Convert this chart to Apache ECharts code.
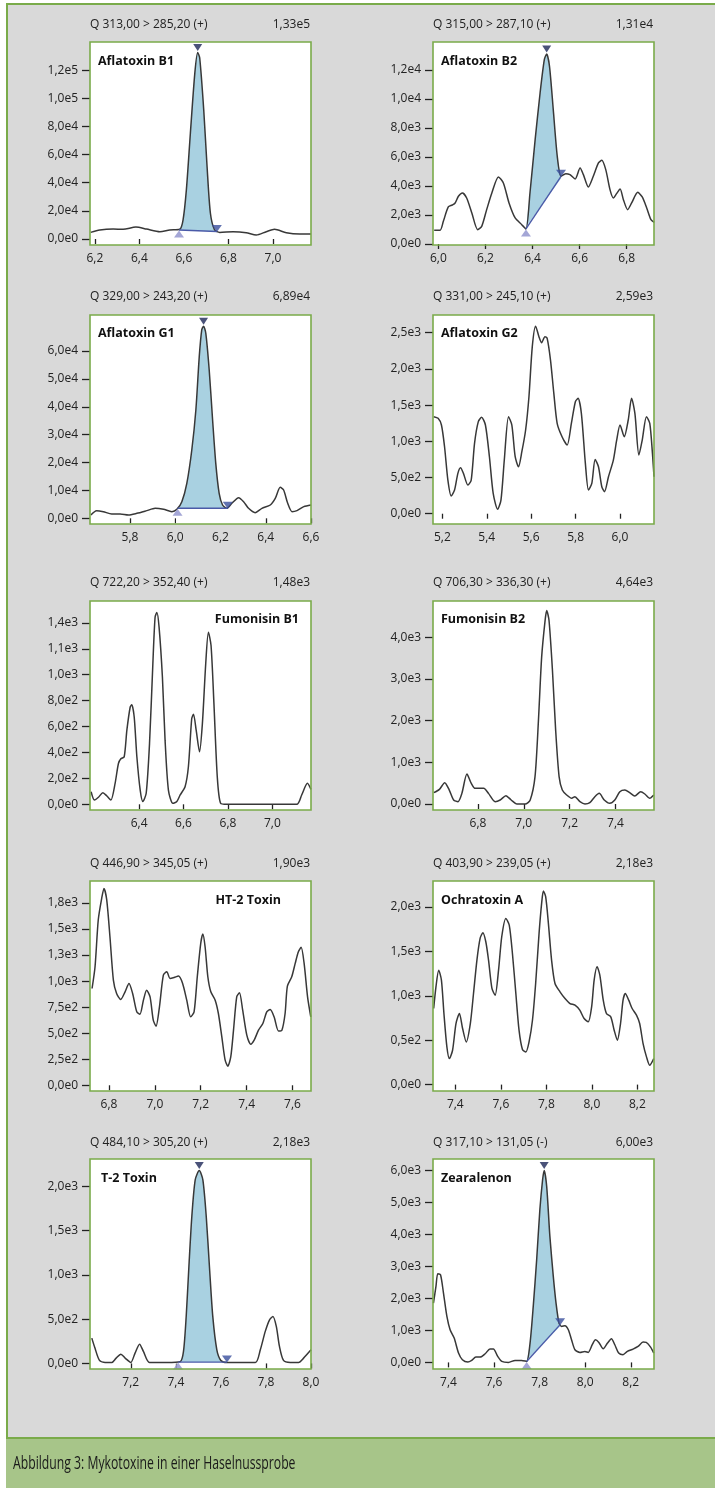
<!DOCTYPE html>
<html><head><meta charset="utf-8">
<script src="https://cdn.jsdelivr.net/npm/echarts@6/dist/echarts.min.js"></script>
<style>
html,body{margin:0;padding:0;background:#fff;}
#frame{position:absolute;left:6px;top:3px;width:709px;height:1485px;background:#d9d9d9;border-left:2px solid #7aab4a;border-top:2px solid #7aab4a;box-sizing:border-box;}
#capbar{position:absolute;left:6px;top:1437px;width:709px;height:51px;background:#a7c589;border-top:2px solid #7aab4a;box-sizing:border-box;}
#c{position:absolute;left:0;top:0;width:715px;height:1488px;}
</style>
</head><body>
<div id="frame"></div><div id="capbar"></div><div id="c"></div>
<script>
// ---------------- DATA ----------------
const compounds = ['Aflatoxin B1','Aflatoxin B2','Aflatoxin G1','Aflatoxin G2','Fumonisin B1','Fumonisin B2','HT-2 Toxin','Ochratoxin A','T-2 Toxin','Zearalenon'];
const transitions = ['Q 313,00 > 285,20 (+)','Q 315,00 > 287,10 (+)','Q 329,00 > 243,20 (+)','Q 331,00 > 245,10 (+)','Q 722,20 > 352,40 (+)','Q 706,30 > 336,30 (+)','Q 446,90 > 345,05 (+)','Q 403,90 > 239,05 (+)','Q 484,10 > 305,20 (+)','Q 317,10 > 131,05 (-)'];
const maxIntensity = ['1,33e5','1,31e4','6,89e4','2,59e3','1,48e3','4,64e3','1,90e3','2,18e3','2,18e3','6,00e3'];
const caption = 'Abbildung 3: Mykotoxine in einer Haselnussprobe';

const aflatoxinB1 = [[6.181,4700],[6.222,6400],[6.282,7100],[6.327,6900],[6.384,8500],[6.432,7100],[6.492,5200],[6.536,6400],[6.581,6900],[6.596,13500],[6.611,34900],[6.629,75200],[6.649,117900],[6.662,132500],[6.671,128600],[6.689,91800],[6.704,51500],[6.719,18300],[6.738,6400],[6.761,4700],[6.821,5200],[6.880,4500],[6.925,2800],[6.970,5200],[7.007,6900],[7.060,4500],[7.120,3600],[7.171,3600]];
const aflatoxinB2 = [[5.982,943],[6.007,943],[6.021,1563],[6.042,2552],[6.059,2690],[6.071,2828],[6.085,3288],[6.102,3517],[6.120,3172],[6.142,2138],[6.167,988],[6.184,1218],[6.205,2368],[6.227,3517],[6.255,4621],[6.276,4207],[6.300,2828],[6.326,1793],[6.354,1333],[6.372,1035],[6.389,3517],[6.411,7196],[6.432,10414],[6.450,12714],[6.460,13100],[6.472,12254],[6.488,9265],[6.505,6046],[6.521,4667],[6.541,4851],[6.559,4782],[6.581,4483],[6.602,5242],[6.616,4782],[6.637,3931],[6.658,4667],[6.680,5587],[6.694,5770],[6.711,5127],[6.729,3747],[6.743,3172],[6.757,3471],[6.772,3793],[6.786,3058],[6.804,2368],[6.821,2828],[6.847,3563],[6.866,3242],[6.885,2483],[6.903,1678],[6.917,1494]];
const aflatoxinG1 = [[5.627,1195],[5.652,2749],[5.682,2390],[5.719,1554],[5.756,1554],[5.793,1195],[5.830,1793],[5.874,2749],[5.911,3586],[5.948,3227],[5.985,2390],[6.007,3227],[6.029,5976],[6.051,12550],[6.073,24500],[6.091,38844],[6.106,57967],[6.117,67529],[6.125,68900],[6.135,66333],[6.150,53186],[6.165,35258],[6.179,19721],[6.194,8964],[6.209,4781],[6.228,3586],[6.250,5378],[6.280,7410],[6.302,5976],[6.324,3586],[6.353,2032],[6.383,3586],[6.420,4781],[6.442,7171],[6.464,11115],[6.479,10159],[6.497,5378],[6.516,2390],[6.538,2749],[6.568,4183],[6.600,4781]];
const aflatoxinG2 = [[5.161,1340],[5.181,1317],[5.196,1225],[5.210,925],[5.225,465],[5.240,244],[5.255,327],[5.270,557],[5.282,635],[5.295,557],[5.315,396],[5.330,465],[5.345,971],[5.362,1271],[5.377,1331],[5.394,1225],[5.412,787],[5.429,281],[5.449,60],[5.464,189],[5.479,741],[5.498,1340],[5.513,1225],[5.528,787],[5.543,649],[5.558,856],[5.575,1156],[5.590,1616],[5.605,2307],[5.620,2590],[5.635,2445],[5.647,2362],[5.662,2445],[5.672,2422],[5.687,2122],[5.702,1662],[5.717,1248],[5.739,1063],[5.762,948],[5.781,1248],[5.799,1547],[5.811,1593],[5.826,1386],[5.844,695],[5.858,327],[5.873,419],[5.888,750],[5.903,649],[5.918,373],[5.930,304],[5.948,511],[5.970,741],[5.985,1017],[6.000,1225],[6.019,1063],[6.037,1294],[6.052,1593],[6.067,1386],[6.085,810],[6.100,1017],[6.119,1340],[6.134,1248],[6.146,833],[6.153,511]];
const fumonisinB1 = [[6.184,97],[6.199,33],[6.217,54],[6.237,90],[6.255,64],[6.273,33],[6.292,162],[6.307,315],[6.318,351],[6.333,367],[6.345,572],[6.360,751],[6.367,769],[6.378,674],[6.390,367],[6.405,110],[6.417,21],[6.432,85],[6.447,469],[6.462,1085],[6.472,1444],[6.480,1480],[6.490,1367],[6.505,982],[6.517,495],[6.532,110],[6.552,8],[6.570,21],[6.585,72],[6.607,136],[6.622,290],[6.637,662],[6.645,695],[6.657,572],[6.672,405],[6.685,623],[6.700,1085],[6.712,1328],[6.724,1226],[6.737,777],[6.752,213],[6.767,8],[6.795,0],[7.110,0],[7.132,72],[7.158,162],[7.174,115]];
const fumonisinB2 = [[6.607,271],[6.632,351],[6.655,511],[6.675,335],[6.694,96],[6.713,56],[6.730,255],[6.752,719],[6.771,495],[6.788,375],[6.825,375],[6.846,255],[6.875,56],[6.897,96],[6.922,200],[6.945,96],[6.970,0],[7.006,0],[7.028,96],[7.049,655],[7.064,2012],[7.078,3529],[7.093,4407],[7.100,4640],[7.110,4407],[7.125,3210],[7.139,1772],[7.154,655],[7.168,335],[7.187,216],[7.209,136],[7.223,176],[7.245,56],[7.267,0],[7.288,32],[7.310,176],[7.329,255],[7.351,96],[7.375,16],[7.397,96],[7.419,295],[7.441,335],[7.462,271],[7.484,192],[7.510,295],[7.528,240],[7.549,136],[7.567,216]];
const ht2Toxin = [[6.726,929],[6.739,1138],[6.753,1587],[6.768,1795],[6.778,1890],[6.790,1779],[6.804,1426],[6.819,1010],[6.833,881],[6.851,824],[6.870,897],[6.887,977],[6.903,881],[6.921,705],[6.935,683],[6.950,817],[6.964,913],[6.979,849],[6.993,625],[7.005,567],[7.020,753],[7.037,1058],[7.052,1090],[7.066,1026],[7.084,1035],[7.103,1048],[7.121,977],[7.139,817],[7.156,657],[7.171,705],[7.185,1042],[7.200,1362],[7.209,1452],[7.219,1330],[7.231,1042],[7.244,897],[7.263,817],[7.277,689],[7.292,465],[7.306,247],[7.318,183],[7.331,272],[7.343,529],[7.357,849],[7.369,888],[7.383,721],[7.401,481],[7.418,394],[7.433,433],[7.452,529],[7.471,593],[7.488,705],[7.503,728],[7.520,657],[7.539,522],[7.554,529],[7.568,689],[7.578,952],[7.597,1042],[7.612,1170],[7.626,1282],[7.638,1324],[7.651,1170],[7.666,849],[7.680,657]];
const ochratoxinA = [[7.305,857],[7.315,1101],[7.327,1289],[7.339,1177],[7.350,801],[7.363,425],[7.374,293],[7.388,387],[7.403,688],[7.418,801],[7.432,632],[7.448,481],[7.466,688],[7.480,1026],[7.495,1402],[7.509,1646],[7.521,1710],[7.534,1609],[7.546,1402],[7.561,1083],[7.575,1007],[7.590,1289],[7.604,1665],[7.622,1872],[7.637,1797],[7.651,1477],[7.666,1026],[7.680,613],[7.695,395],[7.710,368],[7.724,481],[7.739,725],[7.753,1139],[7.768,1703],[7.780,2060],[7.787,2180],[7.797,2116],[7.809,1816],[7.823,1402],[7.838,1139],[7.860,1045],[7.882,970],[7.904,913],[7.926,895],[7.947,838],[7.966,744],[7.984,707],[7.999,876],[8.010,1177],[8.023,1327],[8.035,1233],[8.050,951],[8.064,801],[8.083,763],[8.098,613],[8.112,500],[8.126,688],[8.137,951],[8.147,1026],[8.162,951],[8.177,857],[8.196,782],[8.210,688],[8.225,462],[8.240,312],[8.254,218],[8.272,293]];
const t2Toxin = [[7.027,286],[7.041,173],[7.061,34],[7.086,11],[7.116,11],[7.135,60],[7.156,105],[7.175,60],[7.200,11],[7.219,117],[7.239,218],[7.256,136],[7.283,11],[7.360,11],[7.419,19],[7.434,136],[7.446,531],[7.458,1096],[7.471,1661],[7.486,2075],[7.504,2180],[7.520,2075],[7.535,1661],[7.550,1058],[7.564,531],[7.582,154],[7.600,34],[7.627,11],[7.753,11],[7.775,154],[7.797,362],[7.816,493],[7.831,531],[7.846,418],[7.860,192],[7.878,34],[7.908,11],[7.945,11],[7.967,60],[8.000,154]];
const zearalenon = [[7.334,1854],[7.345,2375],[7.353,2771],[7.365,2740],[7.378,2167],[7.393,1438],[7.407,1021],[7.425,760],[7.444,292],[7.461,83],[7.485,10],[7.502,63],[7.520,167],[7.539,167],[7.561,271],[7.582,417],[7.597,417],[7.616,188],[7.634,31],[7.663,0],[7.692,63],[7.721,63],[7.743,31],[7.758,604],[7.772,1750],[7.787,3208],[7.801,4771],[7.813,5708],[7.820,6000],[7.831,5500],[7.845,3938],[7.860,2688],[7.872,1854],[7.885,1229],[7.897,1125],[7.911,1146],[7.926,1021],[7.940,708],[7.955,396],[7.977,313],[7.999,344],[8.013,313],[8.031,552],[8.045,708],[8.060,625],[8.079,427],[8.098,604],[8.115,740],[8.130,552],[8.147,292],[8.166,240],[8.185,344],[8.210,417],[8.232,500],[8.254,635],[8.268,625],[8.287,479],[8.301,292]];
const signals = [aflatoxinB1, aflatoxinB2, aflatoxinG1, aflatoxinG2, fumonisinB1, fumonisinB2, ht2Toxin, ochratoxinA, t2Toxin, zearalenon];

// integrated peaks: baseline start, baseline end, apex
const peakStart = [[6.578,6400],[6.372,1035],[6.010,3600],null,null,null,null,null,[7.410,15],[7.743,31]];
const peakEnd   = [[6.748,5300],[6.521,4667],[6.232,3600],null,null,null,null,null,[7.627,15],[7.890,1180]];
const peakApex  = [[6.662,132500],[6.460,13100],[6.125,68900],null,null,null,null,null,[7.504,2180],[7.820,6000]];

// axis ranges & ticks
const xMin = [6.178,5.977,5.623,5.158,6.179,6.604,6.717,7.302,7.019,7.332];
const xMax = [7.171,6.916,6.600,6.153,7.174,7.568,7.681,8.273,8.000,8.302];
const yMin = [-4260,-70,-2040,-142,-44,-144,-55,-72,-63,-206];
const yMax = [140000,13930,72900,2744,1569,4870,1961,2293,2310,6356];
const xTicks = [[6.2,6.4,6.6,6.8,7.0],[6.0,6.2,6.4,6.6,6.8],[5.8,6.0,6.2,6.4,6.6],[5.2,5.4,5.6,5.8,6.0],[6.4,6.6,6.8,7.0],[6.8,7.0,7.2,7.4],[6.8,7.0,7.2,7.4,7.6],[7.4,7.6,7.8,8.0,8.2],[7.2,7.4,7.6,7.8,8.0],[7.4,7.6,7.8,8.0,8.2]];
const yTicks = [[0,20000,40000,60000,80000,100000,120000],[0,2000,4000,6000,8000,10000,12000],[0,10000,20000,30000,40000,50000,60000],[0,500,1000,1500,2000,2500],[0,200,400,600,800,1000,1200,1400],[0,1000,2000,3000,4000],[0,250,500,750,1000,1250,1500,1750],[0,500,1000,1500,2000],[0,500,1000,1500,2000],[0,1000,2000,3000,4000,5000,6000]];
const yTickLabels = [['0,0e0','2,0e4','4,0e4','6,0e4','8,0e4','1,0e5','1,2e5'],['0,0e0','2,0e3','4,0e3','6,0e3','8,0e3','1,0e4','1,2e4'],['0,0e0','1,0e4','2,0e4','3,0e4','4,0e4','5,0e4','6,0e4'],['0,0e0','5,0e2','1,0e3','1,5e3','2,0e3','2,5e3'],['0,0e0','2,0e2','4,0e2','6,0e2','8,0e2','1,0e3','1,1e3','1,4e3'],['0,0e0','1,0e3','2,0e3','3,0e3','4,0e3'],['0,0e0','2,5e2','5,0e2','7,5e2','1,0e3','1,3e3','1,5e3','1,8e3'],['0,0e0','0,5e2','1,0e3','1,5e3','2,0e3'],['0,0e0','5,0e2','1,0e3','1,5e3','2,0e3'],['0,0e0','1,0e3','2,0e3','3,0e3','4,0e3','5,0e3','6,0e3']];

// ---------------- LAYOUT ----------------
const colLeft = [90, 433];
const boxWidth = 221;
const rowTop = [42, 315, 601, 881, 1159];
const rowHeight = [203, 209, 209, 210, 210];
const titleY = [25, 297, 583, 864, 1143];
// name label: [x, y, align]
const nameLabelPos = [[98,61,'left'],[441,61,'left'],[98,333,'left'],[441,333,'left'],[299,619,'right'],[441,619,'left'],[281,900,'right'],[441,900,'left'],[101,1178,'left'],[441,1178,'left']];

const FONT = '"Open Sans", "Noto Sans", sans-serif';
const CURVE = '#383838', FILL = '#a9d1e1', BASE = '#4a5aa8', GREEN = '#7aab4a';

const chart = echarts.init(document.getElementById('c'), null, {renderer:'canvas', width:715, height:1488});
const grids = [], xAxes = [], yAxes = [], series = [], graphics = [];

for (let i = 0; i < 10; i++) {
  const col = i % 2, row = Math.floor(i / 2);
  const left = colLeft[col], top = rowTop[row], h = rowHeight[row];
  grids.push({left: left, top: top, width: boxWidth, height: h, show: true, backgroundColor: '#fff', borderWidth: 0, containLabel: false});
  xAxes.push({
    type: 'value', gridIndex: i, min: xMin[i], max: xMax[i],
    axisLine: {show: false}, splitLine: {show: false},
    axisTick: {show: true, length: 5, customValues: xTicks[i], lineStyle: {color: '#222', width: 1.3}},
    axisLabel: {customValues: xTicks[i], margin: 8, fontSize: 12, color: '#222', fontFamily: FONT,
      formatter: v => v.toFixed(1).replace('.', ',')}
  });
  const yt = yTicks[i], yl = yTickLabels[i];
  yAxes.push({
    type: 'value', gridIndex: i, min: yMin[i], max: yMax[i],
    axisLine: {show: false}, splitLine: {show: false},
    axisTick: {show: true, length: 8, customValues: yt, lineStyle: {color: '#222', width: 1.3}},
    axisLabel: {customValues: yt, margin: 12, fontSize: 12, color: '#222', fontFamily: FONT,
      formatter: v => { const k = yt.findIndex(t => Math.abs(t - v) < 1e-6); return k >= 0 ? yl[k] : ''; }}
  });
  const data = signals[i];
  if (peakStart[i]) {
    const s = peakStart[i], e = peakEnd[i];
    const seg = [s].concat(data.filter(p => p[0] > s[0] && p[0] < e[0])).concat([e]);
    series.push({type: 'line', xAxisIndex: i, yAxisIndex: i, data: seg, smooth: 0.25, symbol: 'none', silent: true, z: 1,
      lineStyle: {width: 0, color: FILL}, areaStyle: {color: FILL, opacity: 1, origin: 'start'}});
    const ymin = yMin[i];
    series.push({type: 'custom', xAxisIndex: i, yAxisIndex: i, silent: true, z: 2,
      data: [[s[0], s[1], e[0], e[1]]],
      encode: {x: [0, 2], y: [1, 3]},
      renderItem: (params, api) => {
        const a = api.coord([api.value(0), api.value(1)]);
        const b = api.coord([api.value(2), api.value(3)]);
        const yb = api.coord([api.value(0), ymin])[1];
        return {type: 'polygon', shape: {points: [[a[0]-1.5, a[1]], [b[0]+1.5, b[1]], [b[0]+1.5, yb], [a[0]-1.5, yb]]}, style: {fill: '#fff'}};
      }});
  }
  series.push({type: 'line', xAxisIndex: i, yAxisIndex: i, data: data, smooth: 0.25, symbol: 'none', silent: true, z: 3,
    lineStyle: {color: CURVE, width: 1.5}});
  if (peakStart[i]) {
    series.push({type: 'line', xAxisIndex: i, yAxisIndex: i, data: [peakStart[i], peakEnd[i]], symbol: 'none', silent: true, z: 4,
      lineStyle: {color: BASE, width: 1.4}});
    series.push({type: 'scatter', xAxisIndex: i, yAxisIndex: i, silent: true, z: 5, clip: false,
      symbol: 'triangle',
      data: [
        {value: peakApex[i], symbolSize: [9, 7], symbolRotate: 180, symbolOffset: [0, -5], itemStyle: {color: '#1d2757'}},
        {value: peakStart[i], symbolSize: [10, 7], symbolRotate: 0, symbolOffset: [0, 4], itemStyle: {color: '#8d90cc'}},
        {value: peakEnd[i], symbolSize: [10, 7], symbolRotate: 180, symbolOffset: [0, -3], itemStyle: {color: '#3a4f9c'}}
      ]});
  }
  // box border
  graphics.push({type: 'rect', z: 100, zlevel: 1, silent: true, shape: {x: left, y: top, width: boxWidth, height: h},
    style: {fill: null, stroke: GREEN, lineWidth: 1.6}});
  // header texts
  graphics.push({type: 'text', z: 100, x: left, y: titleY[row], style: {text: transitions[i], fill: '#222', font: '12px ' + FONT, verticalAlign: 'middle', align: 'left'}});
  graphics.push({type: 'text', z: 100, x: left + boxWidth - 1, y: titleY[row], style: {text: maxIntensity[i], fill: '#222', font: '12px ' + FONT, verticalAlign: 'middle', align: 'right'}});
  const np = nameLabelPos[i];
  graphics.push({type: 'text', z: 100, x: np[0], y: np[1], style: {text: compounds[i], fill: '#111', font: 'bold 12.5px ' + FONT, verticalAlign: 'middle', align: np[2]}});
}
graphics.push({type: 'text', z: 100, x: 13, y: 1464, scaleX: 0.66, style: {text: caption, fill: '#1a1a1a', font: '18.5px ' + FONT, verticalAlign: 'middle', align: 'left'}});

chart.setOption({animation: false, grid: grids, xAxis: xAxes, yAxis: yAxes, series: series, graphic: graphics});
</script>
</body></html>
